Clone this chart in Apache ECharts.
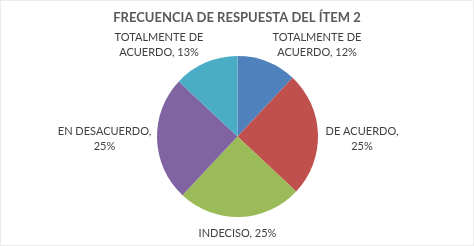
<!DOCTYPE html>
<html>
<head>
<meta charset="utf-8">
<script src="https://cdn.jsdelivr.net/npm/echarts@6/dist/echarts.min.js"></script>
<style>
  html, body { margin: 0; padding: 0; background: #fff; }
  #chart { width: 472px; height: 244px; border: 1px solid #ececec; }
</style>
</head>
<body>
<div id="chart"></div>
<script>
  // data
  const categories = ['TOTALMENTE DE ACUERDO', 'DE ACUERDO', 'INDECISO', 'EN DESACUERDO', 'TOTALMENTE DE ACUERDO'];
  const percents = [12, 25, 25, 25, 13];
  const colors = ['#4F81BD', '#C0504D', '#9BBB59', '#8064A2', '#4BACC6'];

  // pie geometry and label placement (offsets from the pie centre)
  const cx = 236.5, cy = 135.5, radius = 80.5;
  const labelOffsets = [[79.5, -92], [124.5, 2.5], [0, 96.5], [-133, 2.5], [-78.5, -92]];

  const fontFamily = 'Lato, "Open Sans", sans-serif';

  function labelText(p) {
    // Excel wraps after the first two words
    const words = (p.name + ', ' + p.value + '%').split(' ');
    if (words.length <= 2) return words.join(' ');
    return words.slice(0, 2).join(' ') + '\n' + words.slice(2).join(' ');
  }

  const chart = echarts.init(document.getElementById('chart'));
  chart.setOption({
    animation: false,
    title: {
      text: 'FRECUENCIA DE RESPUESTA DEL ÍTEM 2',
      left: 'center', top: 10, padding: 0,
      textStyle: { fontFamily: fontFamily, fontSize: 13, fontWeight: 'bold', color: '#595959' }
    },
    series: [{
      type: 'pie',
      center: [cx, cy],
      radius: radius,
      startAngle: 90,
      clockwise: true,
      data: categories.map((name, i) => ({ name: name, value: percents[i], itemStyle: { color: colors[i] } })),
      label: {
        show: true, position: 'outside', formatter: labelText,
        fontFamily: fontFamily, fontSize: 11, lineHeight: 15, color: '#404040', align: 'center'
      },
      labelLine: { show: false },
      labelLayout: function (params) {
        const off = labelOffsets[params.dataIndex];
        return { x: cx + off[0], y: cy + off[1], align: 'center', verticalAlign: 'middle' };
      }
    }]
  });
</script>
</body>
</html>
